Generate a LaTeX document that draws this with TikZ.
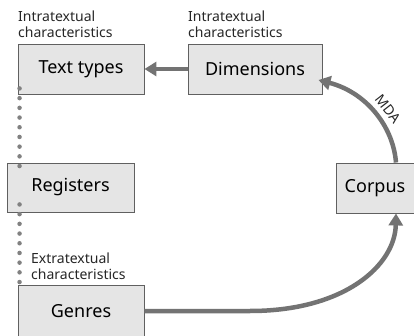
\documentclass[tikz,border=0pt]{standalone}
\usepackage{fontspec}
\setmainfont{Noto Sans}
\usetikzlibrary{arrows.meta}
\definecolor{boxfill}{HTML}{E5E5E5}
\definecolor{boxline}{HTML}{606060}
\definecolor{arr}{HTML}{737373}
\tikzset{
  box/.style={draw=boxline, line width=0.9pt, fill=boxfill, inner sep=0pt, font=\fontsize{18}{21}\selectfont},
  lbl/.style={inner sep=0pt, align=left, text=black!85, font=\fontsize{14}{16}\selectfont},
  bigarrow/.style={draw=arr, line width=4.5pt, -{Triangle[length=12pt,width=14pt]}},
  dotline/.style={draw=arr!90, line width=4.5pt, line cap=round, dash pattern=on 0pt off 9.7pt}
}
\begin{document}
\begin{tikzpicture}[x=1pt,y=-1pt]
\useasboundingbox (0,0) rectangle (414,336);
\begin{scope}
\clip (0,0) rectangle (414,336);
\node[box, minimum width=126pt, minimum height=50pt] (tt) at (81,69) {Text types};
\node[box, minimum width=134pt, minimum height=50pt] (dim) at (255,69) {Dimensions};
\node[box, minimum width=127pt, minimum height=49pt] (reg) at (70.5,187.5) {Registers};
\node[box, minimum width=126pt, minimum height=52pt] (gen) at (81,311) {Genres};
\node[box, minimum width=78pt, minimum height=50pt] (cor) at (375,188) {Corpus};
\end{scope}
\node[lbl, anchor=base west] (l1) at (18,38) {Intratextual\\characteristics};
\node[lbl, anchor=base west] (l2) at (188,38) {Intratextual\\characteristics};
\node[lbl, anchor=base west] (l3) at (31,279) {Extratextual\\characteristics};
% connectors
\draw[bigarrow] (dim.west) -- (tt.east);
\coordinate (g1) at (250,311);
\draw[bigarrow] (gen.east) -- (g1) .. controls (345,311) and (395,265) .. ([xshift=21pt]cor.south);
\draw[bigarrow] ([xshift=21pt]cor.north) .. controls (393,125) and (365,92) .. ([xshift=-4pt,yshift=-11pt]dim.east);
\node[lbl, rotate=-52] (mda) at (388,109) {MDA};
\draw[dotline] ([xshift=2pt,yshift=6pt]tt.south west) -- ([xshift=13pt,yshift=-4pt]reg.north west);
\draw[dotline] ([xshift=13pt,yshift=8pt]reg.south west) -- ([xshift=2pt,yshift=-3pt]gen.north west);
\end{tikzpicture}
\end{document}
